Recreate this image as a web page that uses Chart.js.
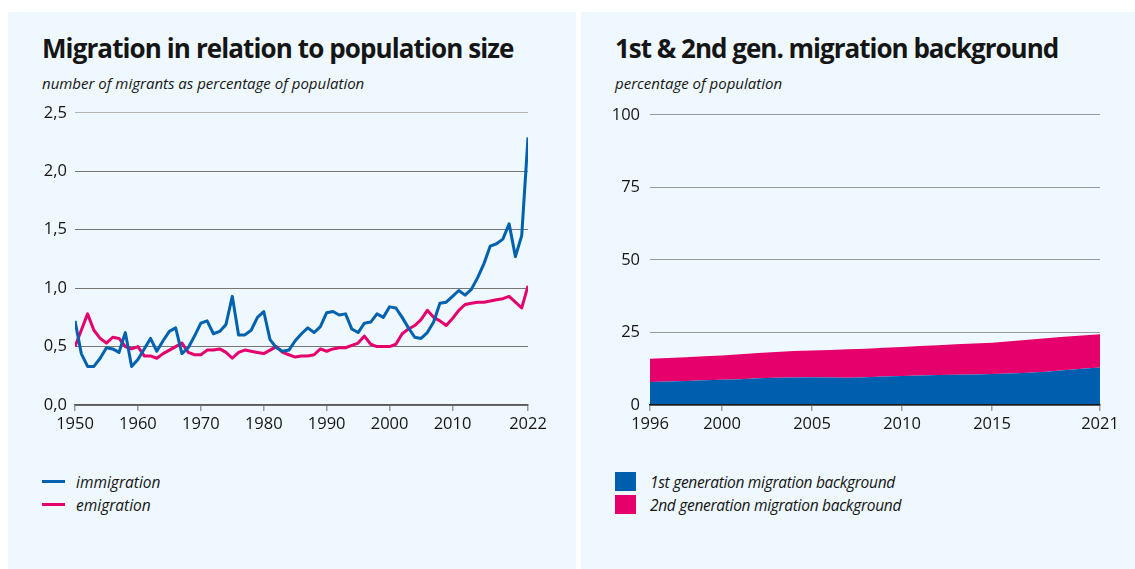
<!DOCTYPE html>
<html>
<head>
<meta charset="utf-8">
<script src="https://cdn.jsdelivr.net/npm/chart.js@4"></script>
<style>
    body { margin: 0; width: 1135px; height: 569px; background: #fff; position: relative; overflow: hidden; font-family: "Open Sans", sans-serif; color: #151515; }
    .panel { position: absolute; top: 12px; height: 557px; background: #eef8fe; }
    .title { position: absolute; top: 30px; font-size: 26px; font-weight: 700; letter-spacing: -0.9px; white-space: nowrap; }
    .subtitle { position: absolute; top: 73px; font-size: 15px; font-style: italic; letter-spacing: 0px; white-space: nowrap; }
    .legend { position: absolute; top: 470px; font-size: 15.5px; font-style: italic; }
    .legend div { height: 23px; display: flex; align-items: center; white-space: nowrap; }
    .swatch-line { display: inline-block; width: 23px; height: 3px; margin-right: 11px; }
    .swatch-box { display: inline-block; width: 21px; height: 19px; margin-right: 14px; }
    canvas { position: absolute; }
</style>
</head>
<body>
<div class="panel" style="left: 8px; width: 568px;"></div>
<div class="panel" style="left: 581px; width: 554px;"></div>

<div class="title" style="left: 42px;">Migration in relation to population size</div>
<div class="subtitle" style="left: 42px;">number of migrants as percentage of population</div>
<div class="title" style="left: 615px; letter-spacing: -1px;">1st &amp; 2nd gen. migration background</div>
<div class="subtitle" style="left: 615px;">percentage of population</div>

<div style="position: absolute; left: 8px; top: 95px; width: 568px; height: 345px;">
    <canvas id="migration"></canvas>
</div>
<div style="position: absolute; left: 581px; top: 95px; width: 554px; height: 345px;">
    <canvas id="background"></canvas>
</div>

<div class="legend" style="left: 42px;">
    <div><span class="swatch-line" style="background: #0062ae;"></span>immigration</div>
    <div><span class="swatch-line" style="background: #e5006d;"></span>emigration</div>
</div>
<div class="legend" style="left: 615px; letter-spacing: -0.3px;">
    <div><span class="swatch-box" style="background: #005eae;"></span>1st generation migration background</div>
    <div><span class="swatch-box" style="background: #e5006b;"></span>2nd generation migration background</div>
</div>

<script>
// migration per year, as % of population
const migrationYears = Array.from({ length: 73 }, (_, i) => 1950 + i);
const immigration = [
    0.72, 0.44, 0.33, 0.33, 0.40, 0.49, 0.48, 0.45, 0.62, 0.33,
    0.39, 0.48, 0.57, 0.46, 0.55, 0.63, 0.66, 0.44, 0.49, 0.59,
    0.70, 0.72, 0.61, 0.63, 0.69, 0.93, 0.60, 0.60, 0.64, 0.75,
    0.80, 0.56, 0.49, 0.46, 0.47, 0.55, 0.61, 0.66, 0.62, 0.67,
    0.79, 0.80, 0.77, 0.78, 0.65, 0.62, 0.70, 0.71, 0.78, 0.75,
    0.84, 0.83, 0.75, 0.66, 0.58, 0.57, 0.62, 0.71, 0.87, 0.88,
    0.93, 0.98, 0.94, 0.99, 1.09, 1.21, 1.36, 1.38, 1.42, 1.55,
    1.27, 1.45, 2.29
];
const emigration = [
    0.50, 0.64, 0.78, 0.64, 0.57, 0.53, 0.58, 0.57, 0.50, 0.48,
    0.50, 0.42, 0.42, 0.40, 0.44, 0.47, 0.50, 0.53, 0.45, 0.43,
    0.43, 0.47, 0.47, 0.48, 0.45, 0.40, 0.45, 0.47, 0.46, 0.45,
    0.44, 0.47, 0.50, 0.45, 0.43, 0.41, 0.42, 0.42, 0.43, 0.48,
    0.46, 0.48, 0.49, 0.49, 0.51, 0.53, 0.59, 0.52, 0.50, 0.50,
    0.50, 0.52, 0.61, 0.65, 0.68, 0.73, 0.81, 0.75, 0.72, 0.68,
    0.74, 0.81, 0.86, 0.87, 0.88, 0.88, 0.89, 0.90, 0.91, 0.93,
    0.88, 0.83, 1.02
];
const migrationXTicks = [1950, 1960, 1970, 1980, 1990, 2000, 2010, 2022];
const migrationYTicks = [0, 0.5, 1, 1.5, 2, 2.5];

// population with a migration background, %
const backgroundYears = [
    1996, 1997, 1998, 1999, 2000, 2001, 2002, 2003, 2004, 2005, 2006, 2007, 2008,
    2009, 2010, 2011, 2012, 2013, 2014, 2015, 2016, 2017, 2018, 2019, 2020, 2021
];
const firstGeneration = [
    7.9, 8.1, 8.3, 8.5, 8.7, 8.9, 9.2, 9.4, 9.5, 9.6, 9.5, 9.4, 9.6,
    9.8, 10.0, 10.2, 10.3, 10.4, 10.5, 10.7, 10.9, 11.1, 11.5, 12.0, 12.5, 12.9
];
const secondGeneration = [
    8.0, 8.1, 8.2, 8.3, 8.4, 8.6, 8.7, 8.9, 9.1, 9.2, 9.5, 9.8, 9.8,
    9.9, 10.0, 10.1, 10.3, 10.5, 10.7, 10.8, 11.1, 11.4, 11.5, 11.5, 11.5, 11.5
];
const backgroundXTicks = [1996, 2000, 2005, 2010, 2015, 2021];
const backgroundYTicks = [0, 25, 50, 75, 100];

const tickFont = { family: "'Open Sans', sans-serif", size: 16.5 };
const blue = "#0062ae";
const pink = "#e5006d";

const toPoints = (xs, ys) => xs.map((x, i) => ({ x: x, y: ys[i] }));
const fixTicks = (values) => (axis) => {
    axis.ticks = values.map(v => ({ value: v }));
};

Chart.defaults.color = "#151515";
Chart.defaults.animation = false;

new Chart(document.querySelector("#migration"), {
    type: "line",
    data: {
        datasets: [{
            label: "immigration",
            data: toPoints(migrationYears, immigration),
            borderColor: blue,
            borderWidth: 3,
            pointRadius: 0,
            borderJoinStyle: "round"
        }, {
            label: "emigration",
            data: toPoints(migrationYears, emigration),
            borderColor: pink,
            borderWidth: 3,
            pointRadius: 0,
            borderJoinStyle: "round"
        }]
    },
    options: {
        responsive: true,
        maintainAspectRatio: false,
        layout: {
            padding: { top: 15, right: 48, bottom: 0, left: 0 }
        },
        scales: {
            x: {
                type: "linear",
                min: 1950,
                max: 2022,
                afterBuildTicks: fixTicks(migrationXTicks),
                afterFit: (axis) => { axis.height = 35; },
                border: { display: true, color: "#5a5a5a", width: 1.5 },
                grid: { drawOnChartArea: false, drawTicks: true, tickLength: 6, color: "#9a9a9a", lineWidth: 1.5 },
                ticks: { font: tickFont, padding: 3, maxRotation: 0, callback: (v) => String(v) }
            },
            y: {
                min: 0,
                max: 2.5,
                afterBuildTicks: fixTicks(migrationYTicks),
                afterFit: (axis) => { axis.width = 67; },
                border: { display: false },
                grid: {
                    drawTicks: false,
                    color: (ctx) => ctx.tick && ctx.tick.value === 2.5 ? "#b4b4b4" : "#767676",
                    lineWidth: 1
                },
                ticks: { font: tickFont, padding: 8, callback: (v) => v.toFixed(1).replace(".", ",") }
            }
        },
        plugins: {
            legend: { display: false },
            tooltip: { enabled: false }
        }
    }
});

new Chart(document.querySelector("#background"), {
    type: "line",
    data: {
        datasets: [{
            label: "1st generation migration background",
            data: toPoints(backgroundYears, firstGeneration),
            backgroundColor: "#005eae",
            borderWidth: 0,
            pointRadius: 0,
            fill: "origin"
        }, {
            label: "2nd generation migration background",
            data: toPoints(backgroundYears, secondGeneration),
            backgroundColor: "#e5006b",
            borderWidth: 0,
            pointRadius: 0,
            fill: "-1"
        }]
    },
    options: {
        responsive: true,
        maintainAspectRatio: false,
        layout: {
            padding: { top: 15, right: 35, bottom: 0, left: 0 }
        },
        scales: {
            x: {
                type: "linear",
                min: 1996,
                max: 2021,
                afterBuildTicks: fixTicks(backgroundXTicks),
                afterFit: (axis) => { axis.height = 35; },
                border: { display: true, color: "#1a1a1a", width: 1.5, z: 1 },
                grid: { drawOnChartArea: false, drawTicks: true, tickLength: 6, color: "#a0a0a0", lineWidth: 1.5 },
                ticks: { font: tickFont, padding: 3, maxRotation: 0, callback: (v) => String(v) }
            },
            y: {
                stacked: true,
                min: 0,
                max: 100,
                afterBuildTicks: fixTicks(backgroundYTicks),
                afterFit: (axis) => { axis.width = 69; },
                border: { display: false },
                grid: { drawTicks: false, color: "#9a9a9a", lineWidth: 1 },
                ticks: { font: tickFont, padding: 10 }
            }
        },
        plugins: {
            legend: { display: false },
            tooltip: { enabled: false }
        }
    }
});
</script>
</body>
</html>
